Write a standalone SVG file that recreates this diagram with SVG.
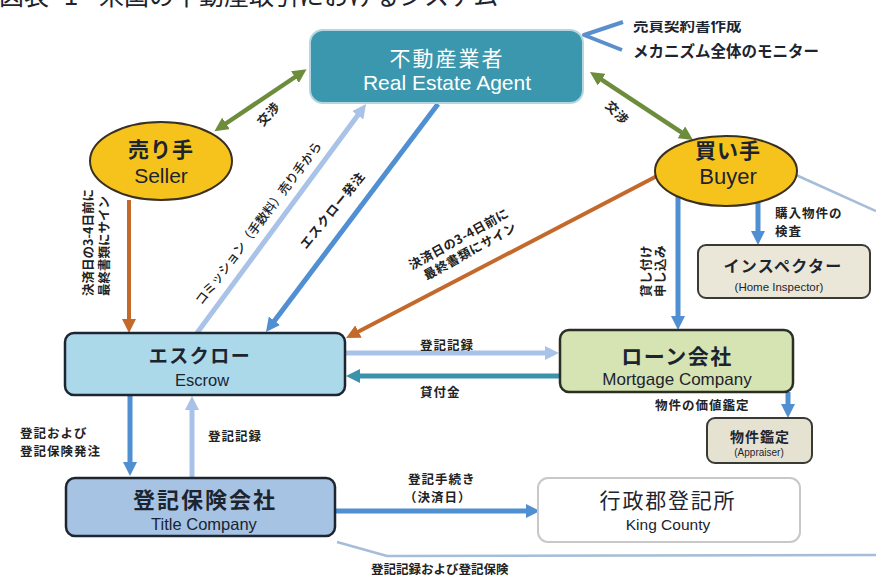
<svg xmlns="http://www.w3.org/2000/svg" width="876" height="577" viewBox="0 0 876 577">
<style>
text{font-family:"Liberation Sans","Noto Sans CJK JP",sans-serif;fill:#1c2430}
.jp{font-family:"Noto Sans CJK JP","Liberation Sans",sans-serif}
.b{font-weight:bold}
.lbl{font-family:"Noto Sans CJK JP",sans-serif;font-weight:bold;font-size:12.5px;letter-spacing:1px;fill:#222}
.mid{text-anchor:middle}
.c{fill:none;stroke-linecap:butt;stroke-linejoin:round}
.blue{stroke:#4f8fd2;stroke-width:5}
.lblue{stroke:#a9c2e8;stroke-width:5}
.teal{stroke:#3a92ab;stroke-width:5}
.orange{stroke:#c4692c;stroke-width:4}
.green{stroke:#6d8c3c;stroke-width:4.5}
.pale{stroke:#a5bdd8;stroke-width:2.5}
.box{stroke-width:2.5}
</style>
<defs>
<marker id="ah-blue" markerUnits="userSpaceOnUse" markerWidth="16" markerHeight="14" refX="2" refY="7" orient="auto-start-reverse"><path d="M0,0 L14,7 L0,14 z" fill="#4f8fd2"/></marker>
<marker id="ah-lblue" markerUnits="userSpaceOnUse" markerWidth="16" markerHeight="14" refX="2" refY="7" orient="auto-start-reverse"><path d="M0,0 L14,7 L0,14 z" fill="#a9c2e8"/></marker>
<marker id="ah-teal" markerUnits="userSpaceOnUse" markerWidth="16" markerHeight="14" refX="2" refY="7" orient="auto-start-reverse"><path d="M0,0 L14,7 L0,14 z" fill="#3a92ab"/></marker>
<marker id="ah-orange" markerUnits="userSpaceOnUse" markerWidth="16" markerHeight="14" refX="2" refY="7" orient="auto-start-reverse"><path d="M0,0 L14,7 L0,14 z" fill="#c4692c"/></marker>
<marker id="ah-green" markerUnits="userSpaceOnUse" markerWidth="16" markerHeight="14" refX="2" refY="7" orient="auto-start-reverse"><path d="M0,0 L14,7 L0,14 z" fill="#6d8c3c"/></marker>
<clipPath id="topclip"><rect x="560" y="21" width="316" height="60"/></clipPath>
</defs>
<rect width="876" height="577" fill="#ffffff"/>

<g id="title">
<text class="jp" y="5" font-size="25" fill="#222"><tspan x="-1">図表</tspan><tspan x="64" font-family="Liberation Sans">1</tspan><tspan x="99">米国の不動産取引におけるシステム</tspan></text>
</g>

<g id="connectors">
<polyline class="c" points="623,22 584,35 622,50" stroke="#5b8fcc" stroke-width="4"/>
<line class="c green" x1="224.4" y1="124.5" x2="296.6" y2="76" marker-start="url(#ah-green)" marker-end="url(#ah-green)"/>
<line class="c green" x1="600" y1="78.6" x2="683" y2="133.4" marker-start="url(#ah-green)" marker-end="url(#ah-green)"/>
<line class="c orange" x1="657" y1="176" x2="356.7" y2="332.5" marker-end="url(#ah-orange)"/>
<line class="c orange" x1="129" y1="200" x2="129" y2="321" marker-end="url(#ah-orange)"/>
<line class="c lblue" x1="197" y1="333" x2="358.9" y2="113.7" marker-end="url(#ah-lblue)"/>
<line class="c blue" x1="438" y1="104" x2="273.2" y2="322.4" marker-end="url(#ah-blue)"/>
<line class="c lblue" x1="345" y1="353" x2="547" y2="353" marker-end="url(#ah-lblue)"/>
<line class="c teal" x1="560" y1="376" x2="358" y2="376" marker-end="url(#ah-teal)"/>
<line class="c blue" x1="678" y1="196" x2="678" y2="318" marker-end="url(#ah-blue)"/>
<line class="c blue" x1="758" y1="202" x2="758" y2="233" marker-end="url(#ah-blue)"/>
<line class="c blue" x1="788" y1="392" x2="788" y2="406" marker-end="url(#ah-blue)"/>
<line class="c blue" x1="130" y1="395" x2="130" y2="464" marker-end="url(#ah-blue)"/>
<line class="c lblue" x1="192" y1="477" x2="192" y2="408" marker-end="url(#ah-lblue)"/>
<line class="c blue" x1="335" y1="511" x2="528" y2="511" marker-end="url(#ah-blue)"/>
<polyline class="c pale" points="337,542 387,556 876,555"/>
<line class="c pale" x1="796" y1="175" x2="876" y2="211"/>

<g id="edge-labels">
<text class="lbl mid" transform="translate(272,117) rotate(-48)">交渉</text>
<text class="lbl mid" transform="translate(614,116) rotate(45)">交渉</text>
<text class="lbl" font-size="11" transform="translate(93,296) rotate(-90)" style="letter-spacing:0"><tspan x="0" y="0">決済日の3-4日前に</tspan><tspan x="0" y="16">最終書類にサイン</tspan></text>
<text class="lbl mid" font-size="11.5" transform="translate(262,226) rotate(-53)" style="font-weight:500;letter-spacing:0">コミッション（手数料）売り手から</text>
<text class="lbl mid" font-size="16" transform="translate(336,213) rotate(-51)">エスクロー発注</text>
<text class="lbl mid" font-size="12" transform="translate(461,243) rotate(-29)" style="letter-spacing:0.5px"><tspan x="0" y="0">決済日の3-4日前に</tspan><tspan x="4" y="16">最終書類にサイン</tspan></text>
<text class="lbl" font-size="12" transform="translate(651,297) rotate(-90)" style="letter-spacing:0.5px"><tspan x="0" y="0">貸し付け</tspan><tspan x="0" y="14">申し込み</tspan></text>
<text class="lbl" x="775" y="218">購入物件の</text>
<text class="lbl" x="775" y="236">検査</text>
<text class="lbl" x="420" y="350">登記記録</text>
<text class="lbl" x="420" y="397">貸付金</text>
<text class="lbl" x="655" y="410">物件の価値鑑定</text>
<text class="lbl" x="20" y="438">登記および</text>
<text class="lbl" x="20" y="456">登記保険発注</text>
<text class="lbl" x="208" y="441">登記記録</text>
<text class="lbl" x="408" y="484">登記手続き</text>
<text class="lbl" x="404" y="502">（決済日）</text>
<text class="lbl" x="371" y="574" font-size="11" style="letter-spacing:0">登記記録および登記保険</text>
</g>
</g>

<g id="agent-notes" clip-path="url(#topclip)">
<text class="jp b" x="633" y="31" font-size="15.5" fill="#222">売買契約書作成</text>
<text class="jp b" x="633" y="57" font-size="15.5" fill="#222">メカニズム全体のモニター</text>
</g>

<g id="agent">
<rect x="310" y="30" width="273" height="73" rx="13" fill="#3b97ae" stroke="#b5d6e0" stroke-width="2"/>
<text class="jp mid" x="447" y="66" font-size="21" style="fill:#fff;letter-spacing:2px">不動産業者</text>
<text class="mid" x="447" y="90" font-size="21" style="fill:#fff">Real Estate Agent</text>
</g>

<g id="seller">
<ellipse cx="161" cy="161" rx="71" ry="39" fill="#f5c31c" stroke="#3a3020" stroke-width="2"/>
<text class="jp b mid" x="161" y="157" font-size="21" style="letter-spacing:1px">売り手</text>
<text class="mid" x="161" y="183" font-size="21">Seller</text>
</g>

<g id="buyer">
<ellipse cx="726" cy="171" rx="71" ry="35" fill="#f5c31c" stroke="#3a3020" stroke-width="2"/>
<text class="jp b mid" x="728" y="158" font-size="21" style="letter-spacing:1px">買い手</text>
<text class="mid" x="728" y="184" font-size="22">Buyer</text>
</g>

<g id="escrow">
<rect class="box" x="65" y="333" width="280" height="62" rx="9" fill="#acd9ea" stroke="#1d2630"/>
<text class="jp b mid" x="200" y="363" font-size="19" style="letter-spacing:1.5px">エスクロー</text>
<text class="mid" x="202" y="386" font-size="16.5">Escrow</text>
</g>

<g id="loan">
<rect class="box" x="560" y="330" width="233" height="62" rx="9" fill="#d6e3b3" stroke="#2a2f25"/>
<text class="jp b mid" x="677" y="364" font-size="21" style="letter-spacing:1.5px">ローン会社</text>
<text class="mid" x="677" y="385" font-size="17">Mortgage Company</text>
</g>

<g id="inspector">
<rect x="698" y="245" width="172" height="53" rx="8" fill="#ebe7d8" stroke="#3a3a35" stroke-width="2"/>
<text class="jp b mid" x="783" y="272" font-size="16" style="letter-spacing:1.3px">インスペクター</text>
<text class="mid" x="779" y="291" font-size="11.5" font-family="Open Sans, sans-serif">(Home Inspector)</text>
</g>

<g id="appraiser">
<rect x="707" y="418" width="105" height="45" rx="8" fill="#e6e2d2" stroke="#3a3a35" stroke-width="2"/>
<text class="jp b mid" x="760" y="442" font-size="14" style="letter-spacing:1px">物件鑑定</text>
<text class="mid" x="759" y="456" font-size="10" font-family="Open Sans, sans-serif">(Appraiser)</text>
</g>

<g id="title-company">
<rect class="box" x="66" y="478" width="269" height="58" rx="9" fill="#a6c3e3" stroke="#1d2630"/>
<text class="jp b mid" x="205" y="508" font-size="22" style="letter-spacing:2px">登記保険会社</text>
<text class="mid" x="204" y="530" font-size="16.5">Title Company</text>
</g>

<g id="king-county">
<rect x="538" y="478" width="262" height="64" rx="10" fill="#ffffff" stroke="#c8c8c8" stroke-width="2"/>
<text class="jp mid" x="668" y="508" font-size="21" style="letter-spacing:1.8px">行政郡登記所</text>
<text class="mid" x="668" y="530" font-size="15.5">King County</text>
</g>
</svg>
